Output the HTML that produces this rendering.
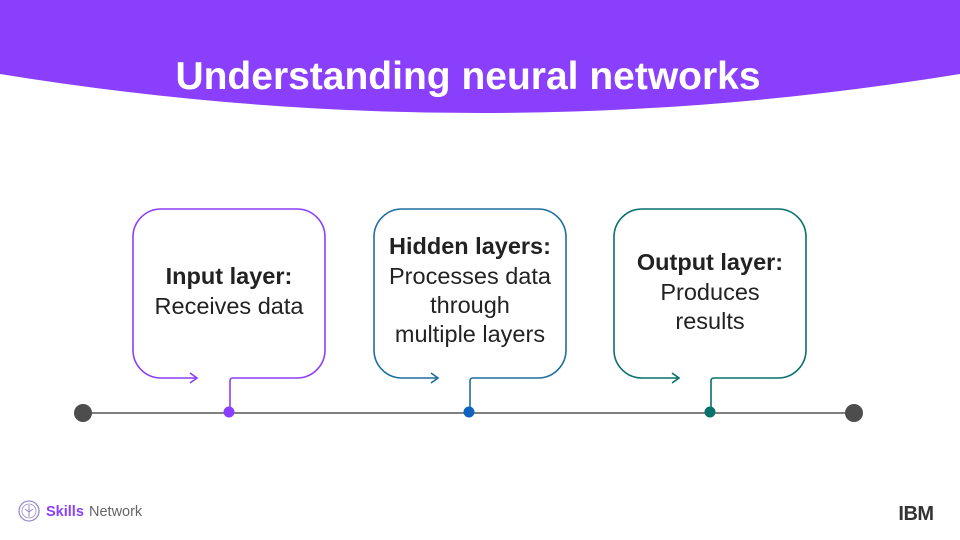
<!DOCTYPE html>
<html><head><meta charset="utf-8"><style>
html,body{margin:0;padding:0;background:#fff;}
svg{display:block;}
text{font-family:"Liberation Sans",sans-serif;}
</style></head><body>
<svg width="960" height="540" viewBox="0 0 960 540" xmlns="http://www.w3.org/2000/svg">
<path d="M0 0H960V74Q480 152 0 74Z" fill="#8a3ffc"/>
<text x="468" y="89" text-anchor="middle" font-size="39" font-weight="bold" fill="#fff">Understanding neural networks</text>

<line x1="83" y1="413" x2="854" y2="413" stroke="#555" stroke-width="1.5"/>
<circle cx="83" cy="413" r="9" fill="#4d4d4d"/>
<circle cx="854" cy="413" r="9" fill="#4d4d4d"/>

<g fill="none" stroke-width="1.6">
<path d="M197 378H161A28 28 0 0 1 133 350V237A28 28 0 0 1 161 209H297A28 28 0 0 1 325 237V350A28 28 0 0 1 297 378H233Q230 378 230 381V412" stroke="#8a3ffc"/>
<path d="M190 373L197 378L190 383" stroke="#8a3ffc"/>
<path d="M438 378H402A28 28 0 0 1 374 350V237A28 28 0 0 1 402 209H538A28 28 0 0 1 566 237V350A28 28 0 0 1 538 378H473Q470 378 470 381V412" stroke="#1d6e9e"/>
<path d="M431 373L438 378L431 383" stroke="#1d6e9e"/>
<path d="M679 378H642A28 28 0 0 1 614 350V237A28 28 0 0 1 642 209H778A28 28 0 0 1 806 237V350A28 28 0 0 1 778 378H714Q711 378 711 381V412" stroke="#08706d"/>
<path d="M672 373L679 378L672 383" stroke="#08706d"/>
</g>
<circle cx="229" cy="412" r="5.5" fill="#8a3ffc"/>
<circle cx="469" cy="412" r="5.5" fill="#0f62c0"/>
<circle cx="710" cy="412" r="5.5" fill="#08706d"/>

<g font-size="23.5" fill="#222" text-anchor="middle">
<text x="229" y="284" font-weight="bold">Input layer:</text>
<text x="229" y="314">Receives data</text>
<text x="470" y="254" font-weight="bold">Hidden layers:</text>
<text x="470" y="284">Processes data</text>
<text x="470" y="313">through</text>
<text x="470" y="342">multiple layers</text>
<text x="710" y="270" font-weight="bold">Output layer:</text>
<text x="710" y="300">Produces</text>
<text x="710" y="329">results</text>
</g>

<circle cx="29" cy="511" r="10" fill="none" stroke="#9a8cc8" stroke-width="1.3"/>
<circle cx="29" cy="511" r="7" fill="none" stroke="#9a8cc8" stroke-width="0.8"/>
<path d="M29 505V517M25 509L29 512L33 509" stroke="#9a8cc8" stroke-width="1" fill="none"/>
<text x="46" y="516" font-size="14.5" font-weight="bold" fill="#8a3ffc">Skills</text>
<text x="89" y="516" font-size="14.5" fill="#666">Network</text>
<text x="916" y="520" font-size="20" font-weight="bold" fill="#333" text-anchor="middle" letter-spacing="-0.5">IBM</text>
</svg>
</body></html>
